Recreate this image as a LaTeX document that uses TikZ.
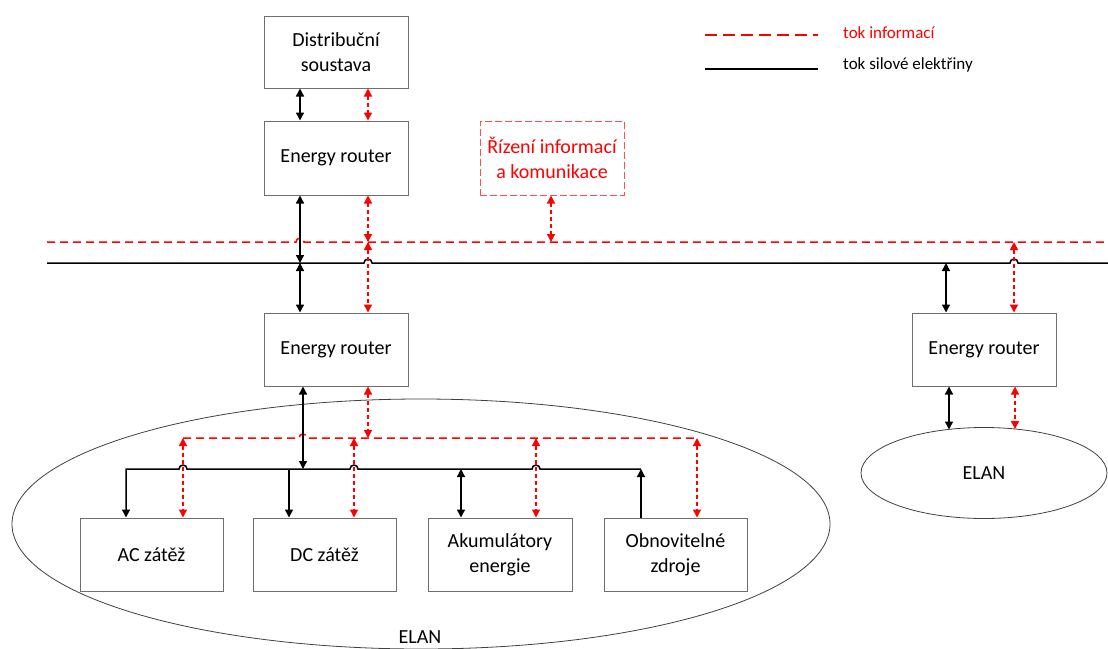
\documentclass[tikz,border=0pt]{standalone}
\usepackage{fontspec}
\setmainfont{Carlito}
\usetikzlibrary{arrows.meta,shapes.geometric}
\definecolor{boxgray}{HTML}{6E6E6E}
\definecolor{infored}{HTML}{FF0000}
\definecolor{lightred}{HTML}{FF5050}

\begin{document}
\begin{tikzpicture}[x=1pt,y=-1pt,
  >={Triangle[length=8pt,width=8pt]},
  box/.style={draw=boxgray, line width=1pt, minimum width=144pt, minimum height=73pt,
    align=center, inner sep=0pt, font=\fontsize{20}{25}\selectfont},
  ctrlbox/.style={box, draw=lightred, dash pattern=on 7pt off 3pt, text=infored},
  zone/.style={ellipse, draw=black!75, line width=0.8pt, inner sep=0pt},
  lbl/.style={inner sep=0pt, font=\fontsize{20}{25}\selectfont},
  legendtxt/.style={inner sep=0pt, font=\fontsize{17}{20}\selectfont},
  power/.style={line width=1.5pt, black},
  info/.style={line width=1.5pt, infored, dash pattern=on 8pt off 5pt},
  pflow/.style={line width=1.4pt, black},
  iflow/.style={line width=1.4pt, infored, dash pattern=on 4pt off 3pt},
]
\useasboundingbox (0,0) rectangle (1108,648);

% ---- zones ----
\node[zone, minimum width=818pt, minimum height=250pt] (elanA) at (421,524) {};
\node[lbl, anchor=base] (elanAlbl) at (420,643) {ELAN};
\node[zone, minimum width=246pt, minimum height=91pt, font=\fontsize{20}{25}\selectfont] (elanB) at (984,473) {ELAN};

% ---- boxes ----
\node[box, minimum height=72pt] (ds) at (336,52) {Distribuční\\soustava};
\node[box, minimum height=74pt] (er1) at (336,158) {Energy router};
\node[ctrlbox, minimum height=74pt] (riz) at (552,158) {Řízení informací\\a komunikace};
\node[box] (er2) at (336,349.5) {Energy router};
\node[box] (er3) at (984,349.5) {Energy router};
\node[box, minimum width=143pt] (ac) at (151.5,554.5) {AC zátěž};
\node[box, minimum width=143pt] (dc) at (324.5,554.5) {DC zátěž};
\node[box] (aku) at (500,554.5) {Akumulátory\\energie};
\node[box, minimum width=143pt] (obn) at (675.5,554.5) {Obnovitelné\\zdroje};

% ---- legend ----
\coordinate (lgI1) at (705,35);  \coordinate (lgI2) at (818,35);
\coordinate (lgP1) at (705,69);  \coordinate (lgP2) at (818,69);
\draw[info, dash pattern=on 12pt off 6pt] (lgI1) -- (lgI2);
\draw[power] (lgP1) -- (lgP2);
\node[legendtxt, anchor=base west, text=infored] (lgItxt) at (843,38) {tok informací};
\node[legendtxt, anchor=base west] (lgPtxt) at (843,69) {tok silové elektřiny};

% ---- main buses ----
\coordinate (ibusL) at (47,242);  \coordinate (ibusR) at (1108,242);
\coordinate (pbusL) at (47,263);  \coordinate (pbusR) at (1108,263);
\coordinate (tA) at (300,263);    % power tap, central router
\coordinate (tB) at (368,242);    % info tap, central router
\coordinate (tC) at (551,242);    % info tap, control unit
\coordinate (tD) at (946,263);    % power tap, right router
\coordinate (tE) at (1014,242);   % info tap, right router
\coordinate (hA) at (300,242);
\coordinate (hB) at (368,263);
\coordinate (hE) at (1014,263);

\draw[info] (ibusL) -- ([xshift=-4pt]hA) arc[start angle=180,end angle=0,radius=4pt] -- (ibusR);
\draw[power] (pbusL) -- ([xshift=-4pt]hB) arc[start angle=180,end angle=0,radius=4pt]
  -- ([xshift=-4pt]hE) arc[start angle=180,end angle=0,radius=4pt] -- (pbusR);

% ---- links around the upper router ----
\draw[pflow,<->] (ds.south -| tA) -- (er1.north -| tA);
\draw[iflow,<->] (ds.south -| tB) -- (er1.north -| tB);
\draw[pflow,<->] (er1.south -| tA) -- (tA);
\draw[iflow,<->] (er1.south -| tB) -- (tB);
\draw[iflow,<->] (riz.south -| tC) -- (tC);
\draw[pflow,<->] (tA) -- (er2.north -| tA);
\draw[iflow,<->] (tB) -- (er2.north -| tB);

% ---- right router ----
\draw[pflow,<->] (tD) -- (er3.north -| tD);
\draw[iflow,<->] (tE) -- (er3.north -| tE);
\coordinate (eB1) at (949,429.5);
\coordinate (eB2) at (1015,429);
\draw[pflow,<->] (er3.south -| eB1) -- (eB1);
\draw[iflow,<->] (er3.south -| eB2) -- (eB2);

% ---- local buses inside the ELAN ----
\coordinate (lbusL) at (183,438); \coordinate (lbusR) at (697,438);
\coordinate (kbusL) at (126,469); \coordinate (kbusR) at (641,469);
\coordinate (tF) at (303,469);    % power tap from router
\coordinate (tG) at (368,438);    % info tap from router
\coordinate (tH) at (289,469);    % DC load
\coordinate (tI) at (461,469);    % storage
\coordinate (rAC) at (183,438);
\coordinate (rDC) at (354,438);
\coordinate (rAK) at (536,438);
\coordinate (rOB) at (697,438);
\coordinate (hF) at (303,438);
\coordinate (k1) at (183,469);
\coordinate (k2) at (354,469);
\coordinate (k3) at (536,469);

\draw[info] (lbusL) -- ([xshift=-4pt]hF) arc[start angle=180,end angle=0,radius=4pt] -- (lbusR);
\draw[power,->] (kbusR) -- ([xshift=4pt]k3) arc[start angle=0,end angle=180,radius=4pt]
  -- ([xshift=4pt]k2) arc[start angle=0,end angle=180,radius=4pt]
  -- ([xshift=4pt]k1) arc[start angle=0,end angle=180,radius=4pt]
  -- (kbusL) -- (kbusL |- ac.north);

\draw[pflow,<->] (er2.south -| tF) -- (tF);
\draw[iflow,<->] (er2.south -| tG) -- (tG);
\draw[pflow,->] (tH) -- (tH |- dc.north);
\draw[pflow,<->] (tI) -- (tI |- aku.north);
\draw[pflow,->] (kbusR |- obn.north) -- (kbusR);

\draw[iflow,<->] (rAC) -- (rAC |- ac.north);
\draw[iflow,<->] (rDC) -- (rDC |- dc.north);
\draw[iflow,<->] (rAK) -- (rAK |- aku.north);
\draw[iflow,<->] (rOB) -- (rOB |- obn.north);
\end{tikzpicture}
\end{document}
